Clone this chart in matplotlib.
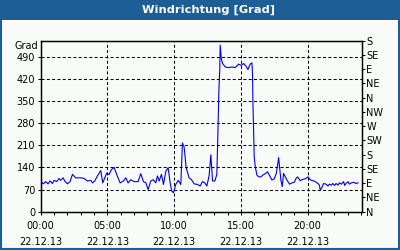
import matplotlib
matplotlib.use("Agg")
import matplotlib.pyplot as plt
from matplotlib.patches import Rectangle
from matplotlib.ticker import MultipleLocator, FixedLocator

# ---- data (hours since 00:00 on 22.12.13, wind direction in degrees) ----
hours = [0.0, 0.2, 0.38, 0.55, 0.7, 0.88, 1.0, 1.2, 1.38, 1.5, 1.68, 1.8, 2.0, 2.2,
         2.38, 2.62, 3.0, 3.25, 3.5, 3.75, 3.88, 4.05, 4.25, 4.5, 4.65, 4.8, 4.95,
         5.12, 5.3, 5.5, 5.7, 5.95, 6.2, 6.38, 6.55, 6.75, 7.0, 7.3, 7.5, 7.7, 7.88,
         8.05, 8.25, 8.45, 8.62, 8.75, 8.88, 9.05, 9.2, 9.38, 9.55, 9.7, 9.82, 9.95,
         10.12, 10.3, 10.5, 10.62, 10.75, 10.9, 11.12, 11.3, 11.5, 11.75, 11.95,
         12.12, 12.3, 12.45, 12.62, 12.75, 12.88, 13.05, 13.2, 13.28, 13.35, 13.42,
         13.45, 13.53, 13.63, 13.83, 14.08, 14.33, 14.58, 14.83, 15.03, 15.2, 15.38,
         15.53, 15.7, 15.83, 15.88, 15.9, 15.95, 16.0, 16.08, 16.2, 16.33, 16.5,
         16.65, 16.83, 17.0, 17.2, 17.33, 17.5, 17.65, 17.75, 17.83, 17.9, 18.0,
         18.1, 18.2, 18.33, 18.45, 18.65, 18.83, 19.0, 19.15, 19.25, 19.45, 19.63,
         19.83, 20.03, 20.2, 20.38, 20.58, 20.78, 20.88, 20.95, 21.03, 21.2, 21.38,
         21.53, 21.63, 21.78, 21.88, 22.03, 22.13, 22.28, 22.38, 22.53, 22.7, 22.78,
         22.88, 23.03, 23.13, 23.28, 23.45, 23.63, 23.78]
degrees = [97, 88, 95, 88, 97, 89, 99, 95, 105, 99, 107, 97, 88, 95,
           118, 107, 107, 105, 97, 99, 91, 97, 113, 130, 91, 107, 122,
           117, 133, 140, 117, 91, 97, 107, 91, 101, 95, 95, 120, 95, 91,
           70, 97, 101, 91, 113, 97, 118, 86, 128, 139, 91, 65, 60,
           86, 99, 86, 217, 204, 139, 107, 101, 88, 86, 81,
           95, 91, 81, 113, 180, 97, 97, 118, 250, 380, 450,
           526, 484, 468, 457, 455, 457, 455, 466, 462, 468, 460,
           449, 466, 470, 426, 352, 258, 173, 142, 116, 110, 110,
           116, 120, 126, 110, 100, 104, 120, 147, 171, 142, 100,
           79, 121, 110, 100, 87, 91, 93, 106, 110, 98, 102,
           104, 110, 101, 98, 95, 89, 84, 68, 73, 89, 87,
           81, 87, 84, 89, 83, 89, 84, 91, 87, 95, 83,
           89, 95, 87, 91, 93, 89, 91]

left_ticks = [0, 70, 140, 210, 280, 350, 420, 490]
right_ticks = [0, 45, 90, 135, 180, 225, 270, 315, 360, 405, 450, 495, 540]
right_labels = ["N", "NE", "E", "SE", "S", "SW", "W", "NW", "N", "NE", "E", "SE", "S"]
x_ticks = [0, 5, 10, 15, 20]
x_labels = ["00:00\n22.12.13", "05:00\n22.12.13", "10:00\n22.12.13",
            "15:00\n22.12.13", "20:00\n22.12.13"]
title = "Windrichtung [Grad]"
unit = "Grad"

BAR = "#1d5f95"
BG = "#f9fbf9"
FS = 7

fig = plt.figure(figsize=(4, 2.5), dpi=100, facecolor=BG)
ax = fig.add_axes([40.7 / 400, 1 - 211.7 / 250, (362.3 - 40.7) / 400, (211.7 - 40.7) / 250])
ax.set_facecolor(BG)

ax.plot(hours, degrees, color="#0000f0", lw=0.8)

ax.set_xlim(0, 24.1)
ax.set_ylim(0, 540)
ax.xaxis.set_major_locator(FixedLocator(x_ticks))
ax.set_xticklabels(x_labels, linespacing=1.75)
ax.xaxis.set_minor_locator(MultipleLocator(1))
ax.yaxis.set_major_locator(FixedLocator(left_ticks))
ax.set_yticklabels([str(v) for v in left_ticks])

ax.tick_params(axis="both", which="both", direction="out", length=2, width=0.75,
               labelsize=FS, colors="black")
ax.tick_params(axis="x", which="major", pad=5)
ax.tick_params(axis="y", pad=2)

dash = (0, (2.9, 2.2))
for v in left_ticks[1:]:
    ax.axhline(v, color="black", lw=0.75, ls=dash, zorder=0)
for v in x_ticks[1:]:
    ax.axvline(v, color="black", lw=0.75, ls=dash, zorder=0)

for s in ax.spines.values():
    s.set_linewidth(0.9)

ax2 = ax.twinx()
ax2.set_ylim(0, 540)
ax2.yaxis.set_major_locator(FixedLocator(right_ticks))
ax2.set_yticklabels(right_labels)
ax2.tick_params(axis="y", direction="out", length=2, width=0.75, labelsize=FS, pad=1)
for s in ax2.spines.values():
    s.set_linewidth(0.9)

fig.text(14 / 400, 1 - 46 / 250, unit, fontsize=FS, ha="left", va="center")

# title bar and frame
fig.patches.append(Rectangle((0, 1 - 20 / 250), 1, 20 / 250, transform=fig.transFigure,
                             facecolor=BAR, edgecolor="none", zorder=-1))
fig.patches.append(Rectangle((0.0025, 0.004), 0.995, 0.994, transform=fig.transFigure,
                             facecolor="none", edgecolor=BAR, lw=1.5, zorder=5))
fig.text(209 / 400, 1 - 10 / 250, title, color="white", fontsize=8.2,
         fontweight="bold", ha="center", va="center")

fig.savefig("out.png", dpi=100, facecolor=BG)
